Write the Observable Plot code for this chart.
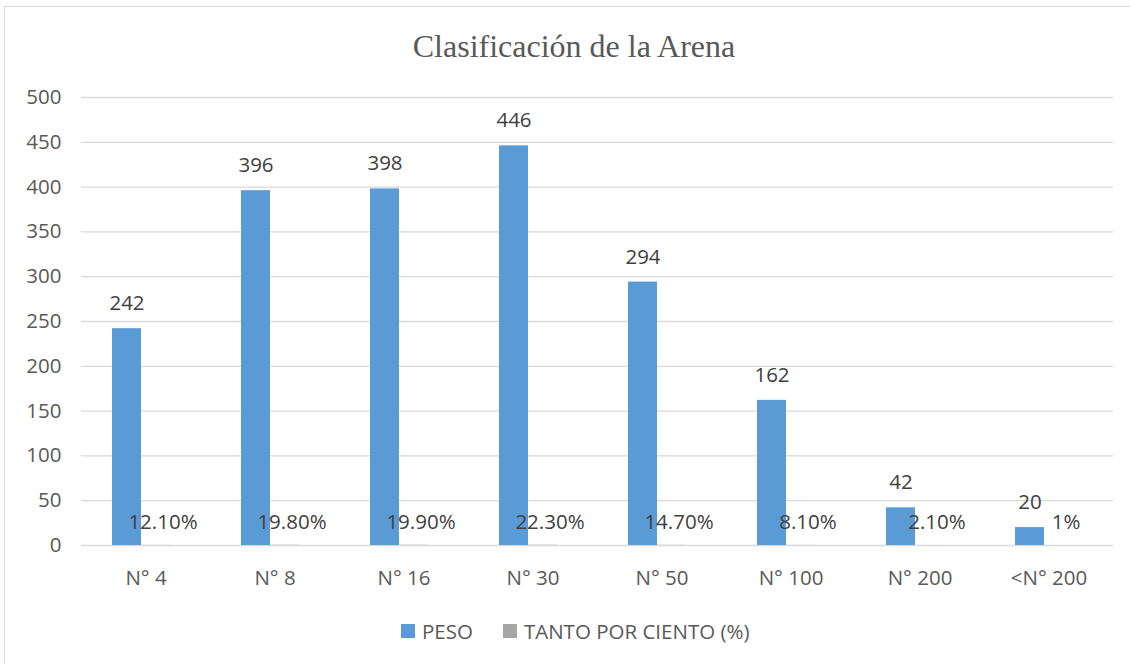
<!DOCTYPE html>
<html>
<head>
<meta charset="utf-8">
<script src="https://cdn.jsdelivr.net/npm/d3@7"></script>
<script src="https://cdn.jsdelivr.net/npm/@observablehq/plot@0.6"></script>
<style>
  html, body { margin: 0; padding: 0; background: #fff; overflow: hidden; }
  #frame { position: absolute; left: 4px; top: 6px; width: 1200px; height: 700px;
           border-left: 1px solid #d9d9d9; border-top: 1px solid #d9d9d9; }
  #title { font-family: "Liberation Serif", serif; font-size: 32px; line-height: 34px;
           color: #595959; padding-top: 22px; width: 1138px; text-align: center; }
  #legend { font-family: "Open Sans", sans-serif; font-size: 20.5px; color: #595959;
            padding-top: 15px; padding-left: 396px; display: flex; align-items: center; line-height: 26px; }
  .sw { width: 14px; height: 14px; display: inline-block; margin-right: 7px; }
  .item { display: flex; align-items: center; margin-right: 30px; }
</style>
</head>
<body>
<div id="frame">
  <div id="title">Clasificación de la Arena</div>
  <div id="chart"></div>
  <div id="legend"></div>
</div>
<script>
const categories = ["N° 4", "N° 8", "N° 16", "N° 30", "N° 50", "N° 100", "N° 200", "<N° 200"];
const peso = [242, 396, 398, 446, 294, 162, 42, 20];
const tanto = [0.121, 0.198, 0.199, 0.223, 0.147, 0.081, 0.021, 0.01];
const tantoLabels = ["12.10%", "19.80%", "19.90%", "22.30%", "14.70%", "8.10%", "2.10%", "1%"];
const series = ["PESO", "TANTO POR CIENTO (%)"];
const seriesColors = ["#5B9BD5", "#A5A5A5"];
const yTicks = [0, 50, 100, 150, 200, 250, 300, 350, 400, 450, 500];

const rows = categories.flatMap((c, i) => [
  {cat: c, serie: series[0], value: peso[i], label: String(peso[i])},
  {cat: c, serie: series[1], value: tanto[i], label: tantoLabels[i]}
]);
const pesoRows = rows.filter(d => d.serie === series[0]);
const tantoRows = rows.filter(d => d.serie === series[1]);

const chart = Plot.plot({
  width: 1125,
  height: 540,
  marginLeft: 75,
  marginRight: 17,
  marginTop: 34,
  marginBottom: 58,
  style: {fontFamily: "Open Sans, sans-serif", fontSize: "20.5px", color: "#595959", background: "transparent"},
  fx: {domain: categories, padding: 0, label: null, tickSize: 0, tickPadding: 25, axis: "bottom"},
  x: {domain: series, paddingInner: 0, paddingOuter: 1.22, align: 0.43, axis: null},
  y: {domain: [0, 500], ticks: yTicks, tickSize: 0, tickPadding: 20, label: null},
  color: {domain: series, range: seriesColors},
  marks: [
    Plot.ruleY(yTicks, {stroke: "#d9d9d9", strokeWidth: 1.3}),
    Plot.barY(rows, {fx: "cat", x: "serie", y: "value", fill: "serie"}),
    Plot.text(pesoRows, {fx: "cat", x: "serie", y: "value", text: "label", dy: -25, fill: "#404040"}),
    Plot.text(tantoRows, {fx: "cat", x: "serie", y: 0, text: "label", dy: -23, dx: 7, fill: "#404040"})
  ]
});
document.getElementById("chart").appendChild(chart);

const legend = document.getElementById("legend");
series.forEach((s, i) => {
  const item = document.createElement("div");
  item.className = "item";
  const sw = document.createElement("span");
  sw.className = "sw";
  sw.style.background = seriesColors[i];
  const t = document.createElement("span");
  t.textContent = s;
  item.appendChild(sw);
  item.appendChild(t);
  legend.appendChild(item);
});
</script>
</body>
</html>
